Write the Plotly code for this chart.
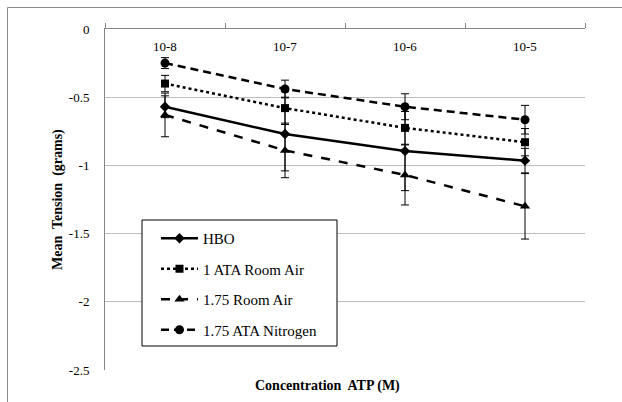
import plotly.graph_objects as go

categories = ["10-8", "10-7", "10-6", "10-5"]
series_names = ["HBO", "1 ATA Room Air", "1.75 Room Air", "1.75 ATA Nitrogen"]
hbo = [-0.57, -0.77, -0.895, -0.965]
hbo_err = [0.08, 0.27, 0.29, 0.09]
ata1_room = [-0.40, -0.58, -0.725, -0.83]
ata1_room_err = [0.06, 0.12, 0.12, 0.10]
room175 = [-0.63, -0.89, -1.07, -1.30]
room175_err = [0.16, 0.20, 0.22, 0.24]
nitrogen = [-0.25, -0.44, -0.57, -0.665]
nitrogen_err = [0.04, 0.065, 0.095, 0.105]
y_ticks = [0, -0.5, -1, -1.5, -2, -2.5]
y_tick_text = ["0", "-0.5", "-1", "-1.5", "-2", "-2.5"]

W, H = 622, 402
L, R, T, B = 105, 37, 29, 32
pw, ph = W - L - R, H - T - B

def px_x(p):
    return (p - L) / pw

def px_y(p):
    return (H - B - p) / ph

serif = "Liberation Serif, Times New Roman, DejaVu Serif, serif"

styles = [
    dict(dash="solid", symbol="diamond", size=8),
    dict(dash="dot", symbol="square", size=8),
    dict(dash="dash", symbol="triangle-up", size=9),
    dict(dash="8px,5px", symbol="circle", size=9),
]
data = [hbo, ata1_room, room175, nitrogen]
errs = [hbo_err, ata1_room_err, room175_err, nitrogen_err]

fig = go.Figure()
for name, ys, es, st in zip(series_names, data, errs, styles):
    fig.add_trace(go.Scatter(
        x=categories, y=ys, name=name, mode="lines+markers",
        line=dict(color="black", width=2.5, dash=st["dash"]),
        marker=dict(color="black", symbol=st["symbol"], size=st["size"]),
        error_y=dict(type="data", array=es, visible=True, color="black",
                     thickness=1, width=4),
        legendgroup=name,
    ))

annotations = [
    dict(text=c, xref="x", yref="paper", x=c, y=px_y(47), yanchor="middle",
         showarrow=False, font=dict(family=serif, size=13, color="black"))
    for c in categories
]
annotations += [
    dict(text="<b>Concentration  ATP (M)</b>", xref="paper", yref="paper",
         x=px_x(327), y=px_y(386), yanchor="middle", showarrow=False,
         font=dict(family=serif, size=14, color="black")),
    dict(text="<b>Mean  Tension  (grams)</b>", xref="paper", yref="paper",
         x=px_x(48), y=px_y(200), yanchor="middle", showarrow=False, textangle=-90,
         font=dict(family=serif, size=14, color="black")),
]

fig.update_layout(
    width=W, height=H,
    margin=dict(l=L, r=R, t=T, b=B),
    paper_bgcolor="white", plot_bgcolor="white",
    font=dict(family=serif, size=13, color="black"),
    showlegend=True,
    legend=dict(
        x=px_x(156), y=px_y(222), xanchor="left", yanchor="top",
        bgcolor="rgba(0,0,0,0)", borderwidth=0,
        font=dict(family=serif, size=15, color="black"),
        traceorder="grouped", tracegroupgap=8,
        itemwidth=37,
    ),
    xaxis=dict(
        type="category", side="top", range=[-0.5, 3.5],
        showticklabels=False, ticks="outside", tickson="boundaries",
        ticklen=5, tickcolor="#868686",
        showline=True, linecolor="#868686", linewidth=1,
        showgrid=False, zeroline=False,
    ),
    yaxis=dict(
        range=[-2.5, 0], tickvals=y_ticks, ticktext=y_tick_text,
        showgrid=True, gridcolor="#bdbdbd", gridwidth=1,
        showline=True, linecolor="#868686", linewidth=1,
        zeroline=False, ticks="", ticklabelstandoff=12,
        tickfont=dict(family=serif, size=13, color="black"),
    ),
    shapes=[
        dict(type="rect", xref="paper", yref="paper",
             x0=px_x(7.5), x1=px_x(640), y0=px_y(420), y1=px_y(7.5),
             line=dict(color="#898989", width=1), layer="below"),
        dict(type="rect", xref="paper", yref="paper",
             x0=px_x(142), x1=px_x(337), y0=px_y(346), y1=px_y(220),
             line=dict(color="black", width=1), fillcolor="white", layer="above"),
    ],
    annotations=annotations,
)

fig.write_html("out.html")
